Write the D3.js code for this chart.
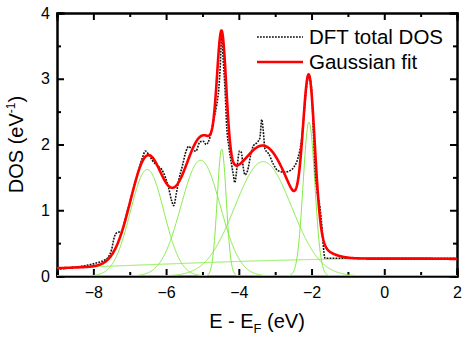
<!DOCTYPE html>
<html>
<head>
<meta charset="utf-8">
<script src="https://cdn.jsdelivr.net/npm/d3@7"></script>
<style>
  body { margin: 0; background: #fff; }
  svg { font-family: "Liberation Sans", Arial, sans-serif; }
  .axis path, .axis line { stroke: #000; stroke-width: 2; }
  .axis text { font-size: 16px; fill: #000; }
</style>
</head>
<body>
<div id="chart"></div>
<script>
// DFT total DOS (E - E_F in eV, DOS in 1/eV)
var dftE = [-9.0, -8.6, -8.2, -7.9, -7.7, -7.6, -7.5, -7.42, -7.35, -7.22, -7.1, -6.98, -6.86, -6.75,
    -6.65, -6.57, -6.48, -6.38, -6.25, -6.12, -6.02, -5.93, -5.85, -5.79, -5.72, -5.65, -5.55, -5.45,
    -5.38, -5.28, -5.18, -5.07, -4.98, -4.9, -4.8, -4.7, -4.61, -4.55, -4.51, -4.47, -4.43, -4.38,
    -4.33, -4.27, -4.2, -4.15, -4.11, -4.05, -3.98, -3.93, -3.88, -3.83, -3.76, -3.67, -3.6, -3.5,
    -3.42, -3.37, -3.33, -3.28, -3.18, -3.05, -2.92, -2.75, -2.6, -2.48, -2.37, -2.28, -2.2, -2.12,
    -2.07, -2.0, -1.95, -1.9, -1.85, -1.77, -1.71, -1.66, -1.63, -1.4, -1.0, 0, 1, 2];
var dftDos = [0.10, 0.13, 0.16, 0.20, 0.24, 0.28, 0.40, 0.60, 0.66, 0.68, 0.92, 1.16, 1.40, 1.62,
    1.80, 1.90, 1.85, 1.76, 1.68, 1.62, 1.50, 1.34, 1.15, 1.07, 1.25, 1.46, 1.68, 1.90,
    1.97, 1.92, 1.90, 2.04, 2.05, 2.00, 2.10, 2.35, 2.60, 2.85, 3.20, 3.70, 3.30, 2.85,
    2.25, 1.95, 1.70, 1.54, 1.42, 1.65, 1.90, 1.88, 1.66, 1.54, 1.60, 1.85, 1.98, 2.03,
    2.10, 2.38, 2.22, 1.93, 1.86, 1.70, 1.60, 1.58, 1.60, 1.66, 1.80, 2.05, 2.50, 2.95,
    3.05, 2.85, 2.20, 1.60, 1.30, 1.05, 0.72, 0.36, 0.27, 0.27, 0.27, 0.27, 0.27, 0.27];

// Gaussian fit components: center (eV), height (1/eV), width sigma (eV)
var peakCenter = [-6.52, -5.05, -4.47, -3.33, -2.07];
var peakHeight = [1.62, 1.76, 1.93, 1.74, 2.34];
var peakSigma  = [0.46, 0.54, 0.125, 0.78, 0.16];
// broad background component
var bgCenter = 0.5, bgHeight = 0.265, bgSigma = 7.5;

var xTicks = [-8, -6, -4, -2, 0, 2];
var xMinor = [-9, -7, -5, -3, -1, 1];
var yTicks = [0, 1, 2, 3, 4];
var yMinor = [0.5, 1.5, 2.5, 3.5];
var legendLabels = ["DFT total DOS", "Gaussian fit"];

var W = 469, H = 338;
var margin = {top: 13, right: 12, bottom: 62, left: 57};
var width = W - margin.left - margin.right,
    height = H - margin.top - margin.bottom;

var svg = d3.select("#chart").append("svg")
    .attr("width", W)
    .attr("height", H);

var g = svg.append("g")
    .attr("transform", "translate(" + margin.left + "," + margin.top + ")");

var x = d3.scaleLinear().domain([-9, 2]).range([0, width]);
var y = d3.scaleLinear().domain([0, 4]).range([height, 0]);

svg.append("defs").append("clipPath")
    .attr("id", "clip")
    .append("rect")
    .attr("width", width)
    .attr("height", height);

function gauss(e, c, a, s) {
    return a * Math.exp(-(e - c) * (e - c) / (2 * s * s));
}

var grid = d3.range(-9, 2.0001, 0.01);

// axes (major + minor, ticks pointing in)
function axisPair(axisFn, major, tr, pad, showLabels) {
    var ax = axisFn.tickValues(major).tickSize(-7).tickPadding(pad)
        .tickFormat(showLabels ? d3.format("d") : "");
    g.append("g").attr("class", "axis").attr("transform", tr).call(ax);
    return g.append("g").attr("class", "axis").attr("transform", tr);
}

axisPair(d3.axisBottom(x), xTicks, "translate(0," + height + ")", 10.5, true)
    .call(d3.axisBottom(x).tickValues(xMinor).tickSize(-4).tickFormat(""));
axisPair(d3.axisTop(x), xTicks, "translate(0,0)", 3, false)
    .call(d3.axisTop(x).tickValues(xMinor).tickSize(-4).tickFormat(""));
axisPair(d3.axisLeft(y), yTicks, "translate(0,0)", 7, true)
    .call(d3.axisLeft(y).tickValues(yMinor).tickSize(-4).tickFormat(""));
axisPair(d3.axisRight(y), yTicks, "translate(" + width + ",0)", 3, false)
    .call(d3.axisRight(y).tickValues(yMinor).tickSize(-4).tickFormat(""));

g.selectAll(".axis path").attr("stroke-linecap", "square");

var line = d3.line()
    .x(function(d) { return x(d[0]); })
    .y(function(d) { return y(d[1]); });

var curves = g.append("g").attr("clip-path", "url(#clip)");

// green components
var comps = peakCenter.map(function(c, i) {
    return grid.map(function(e) { return [e, gauss(e, c, peakHeight[i], peakSigma[i])]; });
});
comps.push(grid.map(function(e) { return [e, gauss(e, bgCenter, bgHeight, bgSigma)]; }));

curves.selectAll(".comp")
    .data(comps)
    .enter().append("path")
    .attr("class", "comp")
    .attr("d", line)
    .attr("fill", "none")
    .attr("stroke", "#84ec44")
    .attr("stroke-width", 1);

// DFT dotted
var dft = dftE.map(function(e, i) { return [e, dftDos[i]]; });
curves.append("path")
    .attr("d", line.curve(d3.curveMonotoneX)(dft))
    .attr("fill", "none")
    .attr("stroke", "#111")
    .attr("stroke-width", 1.6)
    .attr("stroke-dasharray", "1.8,1.2");
line.curve(d3.curveLinear);

// total fit
var fit = grid.map(function(e) {
    var s = gauss(e, bgCenter, bgHeight, bgSigma);
    peakCenter.forEach(function(c, i) { s += gauss(e, c, peakHeight[i], peakSigma[i]); });
    return [e, s];
});
curves.append("path")
    .attr("d", line(fit))
    .attr("fill", "none")
    .attr("stroke", "#ff0000")
    .attr("stroke-width", 2.6);

// legend
var leg = svg.append("g");
leg.append("line")
    .attr("x1", 257).attr("x2", 303).attr("y1", 37).attr("y2", 37)
    .attr("stroke", "#111").attr("stroke-width", 1.6).attr("stroke-dasharray", "1.8,1.2");
leg.append("line")
    .attr("x1", 257).attr("x2", 303).attr("y1", 62).attr("y2", 62)
    .attr("stroke", "#ff0000").attr("stroke-width", 2.6);
leg.selectAll("text")
    .data(legendLabels)
    .enter().append("text")
    .attr("x", 309)
    .attr("y", function(d, i) { return 44 + i * 25; })
    .attr("font-size", "20.5px")
    .text(function(d) { return d; });

// axis titles
var xl = svg.append("text")
    .attr("x", margin.left + width / 2)
    .attr("y", 328)
    .attr("text-anchor", "middle")
    .attr("font-size", "20px");
xl.append("tspan").text("E - E");
xl.append("tspan").attr("font-size", "13px").attr("dy", 5).text("F");
xl.append("tspan").attr("dy", -5).text(" (eV)");

var yl = svg.append("text")
    .attr("transform", "translate(23," + (margin.top + height / 2) + ") rotate(-90)")
    .attr("text-anchor", "middle")
    .attr("font-size", "20px");
yl.append("tspan").text("DOS (eV");
yl.append("tspan").attr("font-size", "12px").attr("dy", -8).text("-1");
yl.append("tspan").attr("dy", 8).text(")");
</script>
</body>
</html>
